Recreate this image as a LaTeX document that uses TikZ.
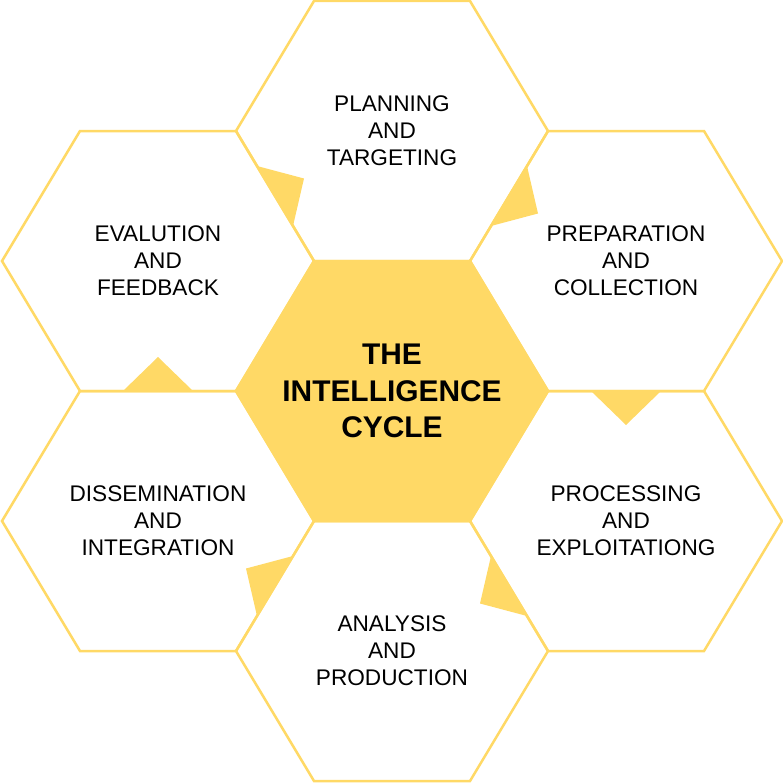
\documentclass[tikz,border=0pt]{standalone}
\usepackage{fontspec}
\setmainfont{Liberation Sans}
\definecolor{hexyellow}{HTML}{FFD966}

\begin{document}
\begin{tikzpicture}[x=1bp,y=-1bp,
    hexline/.style={draw=hexyellow,line width=2.5bp,line join=miter},
    steptext/.style={align=center,text=black,font=\fontsize{22.7}{27}\selectfont}]
  \useasboundingbox (0,0) rectangle (783,783);
  % outer hexagons
  \foreach \cx/\cy in {392/131,626/261,626/521,392/651,158/521,158/261}
    \draw [hexline] (\cx,\cy) ++(-156,0) -- ++(78,-130) -- ++(156,0) -- ++(78,130) -- ++(-78,130) -- ++(-156,0) -- cycle;
  % centre hexagon
  \draw [hexline,fill=hexyellow] (392,391) ++(-156,0) -- ++(78,-130) -- ++(156,0) -- ++(78,130) -- ++(-78,130) -- ++(-156,0) -- cycle;
  \node [align=center,text=black,font={\bfseries\fontsize{30}{36.5}\selectfont}] (intel) at (392,391) {THE\\INTELLIGENCE\\CYCLE};
  % steps
  \node [steptext] (plan) at (392,131) {PLANNING\\AND\\TARGETING};
  \node [steptext] (prep) at (626,261) {PREPARATION\\AND\\COLLECTION};
  \node [steptext] (proc) at (626,521) {PROCESSING\\AND\\EXPLOITATIONG};
  \node [steptext] (anal) at (392,651) {ANALYSIS\\AND\\PRODUCTION};
  \node [steptext] (diss) at (158,521) {DISSEMINATION\\AND\\INTEGRATION};
  \node [steptext] (eval) at (158,261) {EVALUTION\\AND\\FEEDBACK};
  % pointers between steps
  \foreach \ax/\ay/\bx/\by/\px/\py in {257/166/293/226/304/178.5, 527/166/491/226/538/213.5,
      591/391/661/391/626/425, 491/556/527/616/480/603.5, 293/556/257/616/246/568.5, 123/391/193/391/158/357}
    \fill [hexyellow] (\ax,\ay) -- (\bx,\by) -- (\px,\py) -- cycle;
\end{tikzpicture}
\end{document}
